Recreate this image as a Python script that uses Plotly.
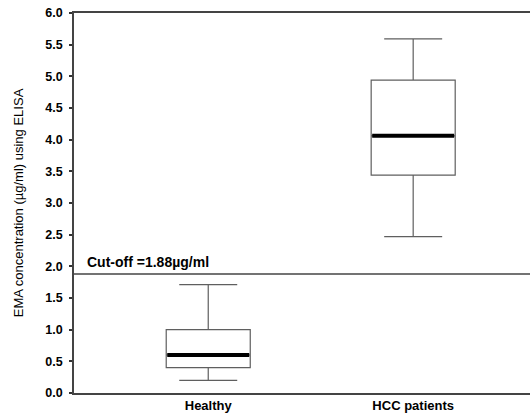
import plotly.graph_objects as go

categories = ["Healthy", "HCC patients"]
lower_whisker = [0.20, 2.47]
q1 = [0.40, 3.44]
median = [0.60, 4.06]
q3 = [1.00, 4.94]
upper_whisker = [1.71, 5.59]
cutoff = 1.88
cutoff_label = "Cut-off =1.88µg/ml"
y_ticks = [0.0, 0.5, 1.0, 1.5, 2.0, 2.5, 3.0, 3.5, 4.0, 4.5, 5.0, 5.5, 6.0]

FONT = "Liberation Sans, Arial, sans-serif"

fig = go.Figure()
fig.add_trace(go.Box(
    x=categories, q1=q1, median=median, q3=q3,
    lowerfence=lower_whisker, upperfence=upper_whisker,
    fillcolor="rgba(255,255,255,0)",
    line=dict(color="#5f5f5f", width=1.2),
    whiskerwidth=0.69, width=0.41, boxpoints=False, showlegend=False,
    hoverinfo="skip",
))
# thick median bars
fig.add_trace(go.Box(
    x=categories, q1=median, median=median, q3=median,
    lowerfence=median, upperfence=median,
    fillcolor="rgba(0,0,0,0)",
    line=dict(color="black", width=4),
    whiskerwidth=0, width=0.40, boxpoints=False, showlegend=False,
    hoverinfo="skip",
))

fig.add_shape(type="line", xref="paper", x0=0, x1=1, yref="y", y0=cutoff, y1=cutoff,
              line=dict(color="#444444", width=1.5))
fig.add_annotation(xref="paper", x=0.024, yref="y", y=cutoff, yanchor="bottom", xanchor="left",
                   yshift=2, showarrow=False, text=cutoff_label,
                   font=dict(family=FONT, size=14, color="black", weight="bold"))

fig.update_layout(
    width=530, height=419,
    margin=dict(l=74, r=0, t=13, b=26, autoexpand=False),
    plot_bgcolor="white", paper_bgcolor="white",
    boxmode="overlay",
    font=dict(family=FONT, color="black"),
)
fig.update_xaxes(
    type="category", range=[-0.655, 1.57], automargin=False,
    showline=True, linecolor="#444444", linewidth=1.5, mirror=True,
    ticks="", showgrid=False, zeroline=False,
    tickfont=dict(family=FONT, size=13, weight="bold", color="black"),
)
fig.update_yaxes(
    range=[0, 6], tickvals=y_ticks, tickformat=".1f", automargin=False,
    showline=True, linecolor="#444444", linewidth=1.5,
    ticks="outside", ticklen=3, tickwidth=2, tickcolor="#333333",
    ticklabelstandoff=4,
    showgrid=False, zeroline=False,
    tickfont=dict(family=FONT, size=12.5, weight="bold", color="black"),
    title=dict(text="EMA concentration (µg/ml) using ELISA", standoff=19,
               font=dict(family=FONT, size=13, color="black")),
)

fig.write_html("out.html", config={"displayModeBar": False},
               post_script="document.body.style.margin='0';document.body.style.overflow='hidden';")
